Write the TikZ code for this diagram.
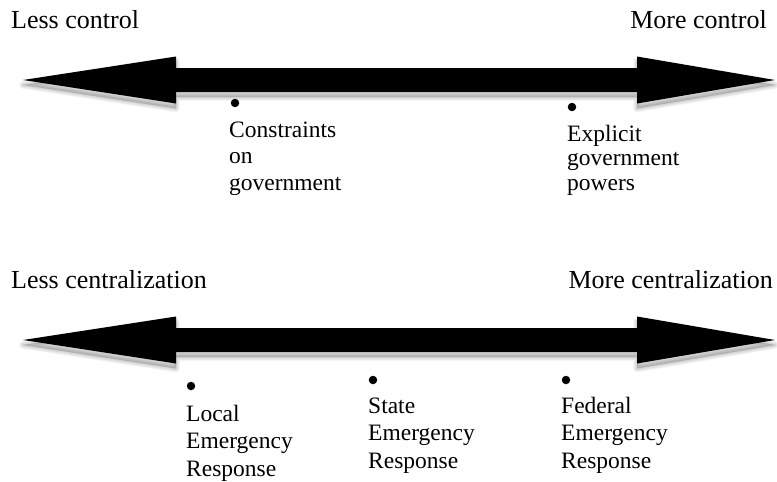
\documentclass[tikz,border=0pt]{standalone}
\usepackage{fontspec}
\setmainfont{Liberation Serif}
\newcommand\arrowshape{(23,0) -- (176,-23.5) -- (176,-12) -- (637,-12) -- (637,-23.5) -- (775,0) -- (637,23.5) -- (637,12) -- (176,12) -- (176,23.5) -- cycle}
\begin{document}
\begin{tikzpicture}[x=1pt,y=-1pt,
  heading/.style={anchor=base west,inner sep=0pt,font=\fontsize{26}{30}\selectfont},
  lbl/.style={anchor=base west,inner sep=0pt,font=\fontsize{23.5}{27}\selectfont},
  dot/.style={circle,fill=black,inner sep=0pt,minimum size=8.5pt},
  shadowlayer/.style={fill=black,draw=black,opacity=0.022,line join=round}]
\useasboundingbox (0,0) rectangle (777,482);
% arrows with soft shadows
\foreach \cy in {80,340}{
  \begin{scope}[shift={(0,\cy+5)}]
    \foreach \w in {1,2,...,8}{
      \path[shadowlayer,line width=\w pt] \arrowshape;
    }
  \end{scope}
  \begin{scope}[shift={(0,\cy)}]
    \fill[black] \arrowshape;
  \end{scope}
}
% headings
\node[heading] (lessctl) at (11,28) {Less control};
\node[heading,anchor=base east] (morectl) at (767,28) {More control};
\node[heading] (lesscen) at (11,288) {Less centralization};
\node[heading,anchor=base east] (morecen) at (773,288) {More centralization};
% bullets
\node[dot] (d1) at (235,103) {};
\node[dot] (d2) at (572,107) {};
\node[dot] (d3) at (191,386) {};
\node[dot] (d4) at (373,380) {};
\node[dot] (d5) at (566,380) {};
% labels
\node[lbl] (t1) at (229,137) {\vtop{\baselineskip=26.5pt\hbox{Constraints}\hbox{on}\hbox{government}}};
\node[lbl] (t2) at (567,141) {\vtop{\baselineskip=24.5pt\hbox{Explicit}\hbox{government}\hbox{powers}}};
\node[lbl] (t3) at (186,421) {\vtop{\baselineskip=27.5pt\hbox{Local}\hbox{Emergency}\hbox{Response}}};
\node[lbl] (t4) at (368,413) {\vtop{\baselineskip=27.5pt\hbox{State}\hbox{Emergency}\hbox{Response}}};
\node[lbl] (t5) at (561,413) {\vtop{\baselineskip=27.5pt\hbox{Federal}\hbox{Emergency}\hbox{Response}}};
\end{tikzpicture}
\end{document}
